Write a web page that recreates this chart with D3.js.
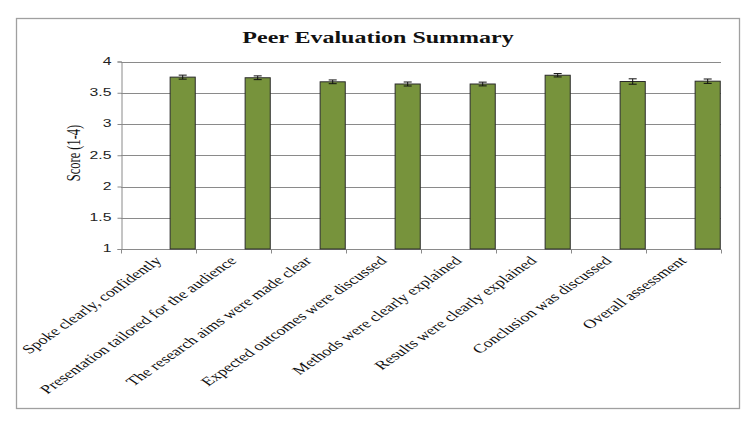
<!DOCTYPE html>
<html><head><meta charset="utf-8">
<script src="https://cdn.jsdelivr.net/npm/d3@7"></script>
<style>body{margin:0;background:#fff}svg{display:block}</style>
</head><body>
<svg id="c" width="750" height="423"></svg>
<script>
const categories = ["Spoke clearly, confidently","Presentation tailored for the audience","The research aims were made clear","Expected outcomes were discussed","Methods were clearly explained","Results were clearly explained","Conclusion was discussed","Overall assessment"];
const values = [3.75, 3.74, 3.675, 3.64, 3.64, 3.78, 3.68, 3.685];
const errors = [0.032, 0.03, 0.03, 0.032, 0.03, 0.027, 0.043, 0.035];
const yTicks = [1, 1.5, 2, 2.5, 3, 3.5, 4];
const title = "Peer Evaluation Summary";
const yLabel = "Score (1-4)";

const SX = 1.5;
const SXL = 1.43;
const svg = d3.select("#c");
svg.append("rect").attr("x",0).attr("y",0).attr("width",750).attr("height",423).attr("fill","#fff");
svg.append("rect").attr("x",16.5).attr("y",18.5).attr("width",723).attr("height",390)
  .attr("fill","#fff").attr("stroke","#a0a0a0").attr("stroke-width",1.3);

const x = d3.scaleBand().domain(categories).range([121, 721]).padding(0);
const y = d3.scaleLinear().domain([1,4]).range([249, 61.5]);

// gridlines
svg.append("g").selectAll("line").data(yTicks.filter(t=>t>1)).join("line")
  .attr("x1",121).attr("x2",721).attr("y1",d=>Math.round(y(d))+0.5).attr("y2",d=>Math.round(y(d))+0.5)
  .attr("stroke","#8a8a8a").attr("stroke-width",1);

// y axis
const ya = svg.append("g").attr("transform","translate(121.5,0)")
  .call(d3.axisLeft(y).tickValues(yTicks).tickSize(4).tickPadding(10).tickFormat(d3.format("")));
ya.select(".domain").attr("stroke","#8a8a8a");
ya.selectAll(".tick line").attr("stroke","#8a8a8a");
ya.selectAll(".tick text").attr("font-family","'Liberation Sans', Arial, sans-serif").attr("font-size",10.5)
  .attr("fill","#222").attr("x",0).attr("dy",null).attr("dominant-baseline","middle")
  .attr("transform",function(){return "translate(-10,0) scale("+SX+",1)";});

// x axis
const xa = svg.append("g").attr("transform","translate(0,249.5)");
xa.append("line").attr("x1",121).attr("x2",721).attr("stroke","#8a8a8a");
xa.selectAll("line.t").data(categories.concat(["_end"])).join("line").attr("class","t")
  .attr("x1",(d,i)=> i<categories.length ? x(d)+0.5 : x(categories[categories.length-1])+x.bandwidth()+0.5)
  .attr("x2",(d,i)=> i<categories.length ? x(d)+0.5 : x(categories[categories.length-1])+x.bandwidth()+0.5)
  .attr("y1",0).attr("y2",4).attr("stroke","#8a8a8a");
xa.selectAll("text").data(categories).join("text")
  .attr("transform",d=>"translate("+(x(d)+x.bandwidth()/2+4)+",12) scale("+SXL+",1) rotate(-45)")
  .attr("text-anchor","end").attr("font-family","'Liberation Serif', 'Times New Roman', serif")
  .attr("font-size",12.6).attr("fill","#111").text(d=>d);

// bars
const bw = x.bandwidth();
svg.append("g").selectAll("rect").data(categories).join("rect")
  .attr("x",d=>x(d)+bw*0.655).attr("width",bw*0.335)
  .attr("y",(d,i)=>y(values[i])).attr("height",(d,i)=>y(1)-y(values[i]))
  .attr("fill","#77933c").attr("stroke","#2b2b2b").attr("stroke-width",1);

// error bars
const eg = svg.append("g").attr("stroke","#111").attr("stroke-width",1);
categories.forEach((c,i)=>{
  const cx = x(c)+bw*0.655+bw*0.335/2;
  eg.append("line").attr("x1",cx).attr("x2",cx).attr("y1",y(values[i]+errors[i])).attr("y2",y(values[i]-errors[i]));
  eg.append("line").attr("x1",cx-4).attr("x2",cx+4).attr("y1",y(values[i]+errors[i])).attr("y2",y(values[i]+errors[i]));
  eg.append("line").attr("x1",cx-4).attr("x2",cx+4).attr("y1",y(values[i]-errors[i])).attr("y2",y(values[i]-errors[i]));
});

// title
svg.append("text").attr("transform","translate(378,43) scale("+SX+",1)").attr("text-anchor","middle")
  .attr("font-family","'Liberation Serif', 'Times New Roman', serif").attr("font-weight","bold")
  .attr("font-size",16).attr("fill","#111").text(title);

// y label
svg.append("text").attr("transform","translate(80,153) scale("+SX+",1) rotate(-90)").attr("text-anchor","middle")
  .attr("font-family","'Liberation Serif', 'Times New Roman', serif")
  .attr("font-size",12.5).attr("fill","#111").text(yLabel);
</script>
</body></html>
